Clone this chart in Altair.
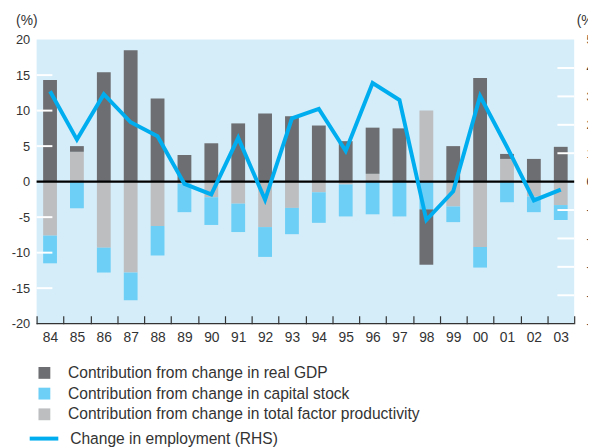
import altair as alt
import pandas as pd

years = ["84", "85", "86", "87", "88", "89", "90", "91", "92", "93",
         "94", "95", "96", "97", "98", "99", "00", "01", "02", "03"]
gdp = [14.3, 0.8, 15.4, 18.5, 11.7, 3.75, 5.4, 8.2, 9.6, 9.2,
       7.9, 5.7, 6.5, 7.5, -7.8, 5.0, 14.6, 0.7, 3.2, 4.9]
capital = [-3.9, -3.75, -3.5, -3.9, -4.15, -4.0, -3.9, -4.0, -4.2, -3.7,
           -4.3, -4.5, -4.6, -4.9, -3.9, -2.2, -2.9, -2.9, -2.2, -2.1]
tfp = [-7.6, 4.2, -9.3, -12.8, -6.25, -0.3, -2.2, -3.1, -6.4, -3.7,
       -1.5, -0.4, 1.1, 0.0, 10.0, -3.5, -9.2, 3.2, -2.1, -3.3]
employment = [3.18, 1.48, 3.08, 2.09, 1.6, -0.08, -0.45, 1.54, -0.64, 2.23,
              2.56, 1.08, 3.47, 2.87, -1.35, -0.34, 3.01, 1.22, -0.66, -0.28]

s_gdp = "Contribution from change in real GDP"
s_cap = "Contribution from change in capital stock"
s_tfp = "Contribution from change in total factor productivity"
s_emp = "Change in employment (RHS)"
unit_label = "(%)"

left_ticks = [-15, -10, -5, 5, 10, 15]
right_ticks = [-4, -3, -2, -1, 1, 2, 3, 4]

W, H = 545, 288
TXT = "#333333"

rows = []
for i, y in enumerate(years):
    rows.append({"year": y, "series": s_tfp, "value": tfp[i], "ord": 0})
    rows.append({"year": y, "series": s_cap, "value": capital[i], "ord": 1})
    rows.append({"year": y, "series": s_gdp, "value": gdp[i], "ord": 2})
bars_df = pd.DataFrame(rows)
emp_df = pd.DataFrame({"year": years, "value": employment, "series": [s_emp] * len(years)})

x_enc = alt.X("year:N", sort=years, title=None,
              scale=alt.Scale(paddingInner=0, paddingOuter=0),
              axis=alt.Axis(tickBand="extent", offset=-8, tickSize=8, domain=False,
                            tickColor=TXT, tickWidth=1.2, labelAngle=0,
                            labelPadding=7, labelFontSize=14, labelColor=TXT))

left_scale = alt.Scale(domain=[-20, 20], nice=False, zero=False)
right_scale = alt.Scale(domain=[-5, 5], nice=False, zero=False)

bars = alt.Chart(bars_df).mark_bar(size=14).encode(
    x=x_enc,
    y=alt.Y("value:Q", stack="zero", scale=left_scale, title=None,
            axis=alt.Axis(orient="left", values=list(range(-20, 21, 5)), domain=False,
                          ticks=False, grid=False, labelPadding=7,
                          labelExpr="datum.value + ''",
                          labelFontSize=13, labelColor=TXT)),
    color=alt.Color("series:N",
                    scale=alt.Scale(domain=[s_gdp, s_cap, s_tfp],
                                    range=["#6D6E71", "#6DCFF6", "#BCBEC0"]),
                    legend=alt.Legend(orient="none", legendX=0, legendY=330, title=None,
                                      symbolType="square", symbolSize=144,
                                      symbolStrokeWidth=0, labelFontSize=15.8,
                                      labelOffset=16, rowPadding=4, padding=0,
                                      labelColor=TXT, labelLimit=500)),
    order=alt.Order("ord:Q", sort="ascending"),
)

left_unit = alt.Chart(pd.DataFrame({"t": [unit_label]})).mark_text(
    align="right", baseline="bottom", fontSize=14, color=TXT).encode(
    text="t:N", x=alt.value(1), y=alt.value(-12))

left_tick_rules = alt.Chart(pd.DataFrame({"v": left_ticks})).mark_rule(
    color="white", strokeWidth=2).encode(
    y=alt.Y("v:Q", scale=left_scale, axis=None),
    x=alt.value(0), x2=alt.value(16))

zero_rule = alt.Chart(pd.DataFrame({"v": [0]})).mark_rule(
    color="black", strokeWidth=2.2).encode(
    y=alt.Y("v:Q", scale=left_scale, axis=None),
    x=alt.value(0), x2=alt.value(W))

bottom_rule = alt.Chart(pd.DataFrame({"v": [-20]})).mark_rule(
    color=TXT, strokeWidth=1.3).encode(
    y=alt.Y("v:Q", scale=left_scale, axis=None),
    x=alt.value(0), x2=alt.value(W))

right_tick_rules = alt.Chart(pd.DataFrame({"v": right_ticks})).mark_rule(
    color="white", strokeWidth=2).encode(
    y=alt.Y("v:Q", scale=right_scale, axis=None),
    x=alt.value(W - 17), x2=alt.value(W))

line = alt.Chart(emp_df).mark_line(strokeWidth=4).encode(
    x=x_enc,
    y=alt.Y("value:Q", scale=right_scale, title=unit_label,
            axis=alt.Axis(orient="right", values=list(range(-5, 6, 1)), domain=False,
                          ticks=False, grid=False, labelPadding=12,
                          labelExpr="datum.value + ''",
                          labelFontSize=13, labelColor=TXT,
                          titleAngle=0, titleAlign="left", titleX=2, titleY=-12,
                          titleBaseline="bottom", titleFontSize=14,
                          titleFontWeight="normal", titleColor=TXT)),
    color=alt.Color("series:N", scale=alt.Scale(domain=[s_emp], range=["#00AEEF"]),
                    legend=alt.Legend(orient="none", legendX=-9, legendY=388, title=None,
                                      symbolType="stroke", symbolSize=841,
                                      symbolStrokeWidth=4, labelFontSize=15.8,
                                      labelOffset=10, padding=0,
                                      labelColor=TXT, labelLimit=500)),
)

chart = alt.layer(
    bars, left_tick_rules, zero_rule, bottom_rule, right_tick_rules, line, left_unit
).resolve_scale(
    y="independent", color="independent"
).properties(
    width=W, height=H,
    autosize=alt.AutoSizeParams(type="none"),
    padding={"left": 29, "top": 29, "right": 14, "bottom": 122},
).configure(
    font="Liberation Sans"
).configure_view(
    fill="#D5EDF9", stroke=None
)

chart.save("out.html", embed_options={"renderer": "svg", "actions": False})
